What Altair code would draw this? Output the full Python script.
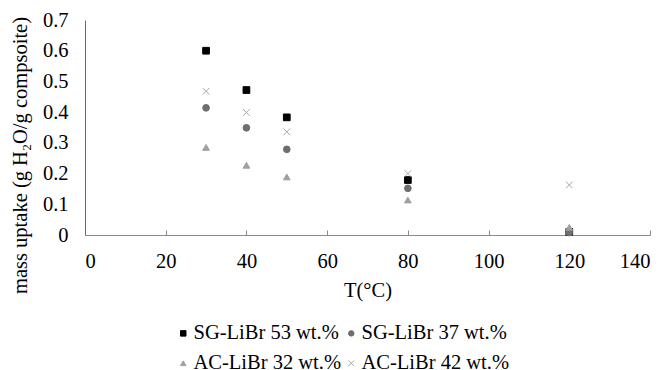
import altair as alt
import pandas as pd

temps = [30, 40, 50, 80, 120]
sg53 = [0.600, 0.472, 0.383, 0.179, 0.010]
sg37 = [0.414, 0.349, 0.279, 0.152, 0.008]
ac32 = [0.285, 0.227, 0.189, 0.114, 0.025]
ac42 = [0.468, 0.399, 0.336, 0.200, 0.163]

series_names = ["SG-LiBr 53 wt.%", "SG-LiBr 37 wt.%", "AC-LiBr 32 wt.%", "AC-LiBr 42 wt.%"]
series_colors = ["#000000", "#6e6e6e", "#a0a0a0", "#a8a8a8"]
series_shapes = ["square", "circle", "triangle-up", "M-1,-1L1,1M-1,1L1,-1"]
x_ticks = [0, 20, 40, 60, 80, 100, 120, 140]
y_ticks = [0, 0.1, 0.2, 0.3, 0.4, 0.5, 0.6, 0.7]

rows = []
for name, vals in zip(series_names, [sg53, sg37, ac32, ac42]):
    for t, v in zip(temps, vals):
        rows.append({"T": t, "uptake": v, "series": name})
df = pd.DataFrame(rows)

FONT = "Liberation Serif, Times New Roman, serif"
FS = 20.5
AXIS_GRAY = "#8a8a8a"

x_scale = alt.Scale(domain=[0, 140], nice=False)
y_scale = alt.Scale(domain=[0, 0.7], nice=False)

legend = alt.Legend(
    title=None, orient="none", legendX=88, legendY=303, columns=2,
    direction="horizontal", labelFont=FONT, labelFontSize=FS, labelColor="#000000",
    symbolSize=30, symbolStrokeWidth=1, labelOffset=0, columnPadding=-4, rowPadding=9,
)

points = alt.Chart(df).mark_point(filled=True, opacity=1, size=45, strokeWidth=1).encode(
    x=alt.X("T:Q", scale=x_scale,
            axis=alt.Axis(title="T(°C)", values=x_ticks, ticks=False, grid=False,
                          domainColor=AXIS_GRAY, labelPadding=16, titlePadding=9,
                          labelFont=FONT, labelFontSize=FS, titleFont=FONT,
                          titleFontSize=FS, titleFontWeight="normal",
                          labelColor="#000000", titleColor="#000000")),
    y=alt.Y("uptake:Q", scale=y_scale,
            axis=alt.Axis(title="mass uptake (g H₂O/g compsoite)", values=y_ticks,
                          format=".1~f", ticks=False, grid=False, domainColor="#6a6a6a",
                          labelPadding=17, titleFont=FONT, titleFontSize=FS,
                          titleFontWeight="normal", labelFont=FONT, labelFontSize=FS,
                          labelColor="#000000", titleColor="#000000",
                          titleX=-59, titleY=135, titleBaseline="alphabetic")),
    shape=alt.Shape("series:N", scale=alt.Scale(domain=series_names, range=series_shapes), legend=legend),
    fill=alt.Fill("series:N", scale=alt.Scale(domain=series_names, range=series_colors), legend=legend),
    stroke=alt.Stroke("series:N", scale=alt.Scale(domain=series_names, range=series_colors), legend=legend),
)

tick_layer = alt.Chart(df).mark_point(opacity=0).encode(
    x=alt.X("T:Q", scale=x_scale,
            axis=alt.Axis(orient="top", offset=-215, values=x_ticks, labels=False,
                          domain=False, grid=False, tickSize=5, tickColor=AXIS_GRAY,
                          ticks=True, title=None)),
)

chart = alt.layer(points, tick_layer).resolve_axis(x="independent").properties(
    width=565, height=215,
    autosize=alt.AutoSizeParams(type="none"),
    padding={"left": 85, "top": 20, "right": 17, "bottom": 135},
).configure(background="white", font=FONT).configure_view(stroke=None)

chart.save("out.html", embed_options={"renderer": "svg", "actions": False})
